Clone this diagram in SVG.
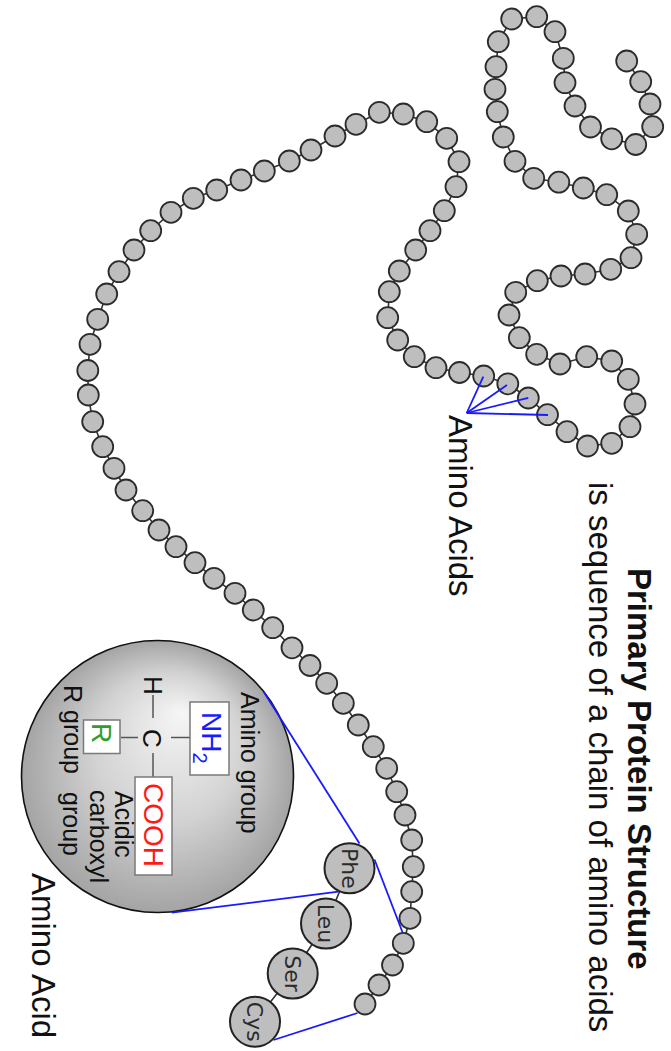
<svg xmlns="http://www.w3.org/2000/svg" xmlns:xlink="http://www.w3.org/1999/xlink" width="671" height="1051" viewBox="0 0 671 1051">
  <style>
    .backbone { fill: none; stroke: #333; stroke-width: 1.6; }
    .bead { fill: #bebebe; stroke: #2b2b2b; stroke-width: 1.8; }
    .residue { fill: #bebebe; stroke: #222; stroke-width: 2; }
    .res-label { font-family: "DejaVu Sans", sans-serif; font-size: 22px; fill: #2a2a2a; text-anchor: middle; }
    .zoom-line { fill: none; stroke: #1a1aff; stroke-width: 1.8; }
    .label { font-family: "Liberation Sans", Arial, sans-serif; fill: #111; }
    .big { font-size: 33px; }
    .small { font-size: 25px; }
    .bond { stroke: #555; stroke-width: 1.5; }
    .box { fill: #fff; stroke: #7a7a7a; stroke-width: 1.5; }
    .grp { font-family: "Liberation Sans", Arial, sans-serif; font-size: 28px; }
  </style>
  <defs>
    <circle id="bead" cx="0" cy="0" r="10.5" class="bead"/>
    <radialGradient id="shade" gradientUnits="userSpaceOnUse" cx="157.5" cy="776.5" r="136" fx="182" fy="712">
      <stop offset="0" stop-color="#f6f6f6"/>
      <stop offset="0.55" stop-color="#d2d2d2"/>
      <stop offset="1" stop-color="#a4a4a4"/>
    </radialGradient>
  </defs>

  <rect width="671" height="1051" fill="#fff"/>

  <!-- polypeptide chain -->
  <g id="chain">
    <polyline class="backbone" points="626.7,61 640.7,81.7 650,104 652.7,126.7 635.7,144.5 611.7,138.8 590.5,127 575,106 565,82.7 563.3,58.3 555,31.7 536.7,16.7 511.7,19 498.3,41.7 496,66.7 495,89.3 497.3,111.7 503.3,137 515,161.3 533.7,178.3 558.8,182.2 583.3,188 606.7,194.7 628.3,211 636.7,234.3 631,257.7 610.7,269.3 585,274 561,276 537.3,280.7 515.7,292.3 509,315 519.3,337.7 536.7,354.3 560,364 586.7,356.7 611.7,361 628.3,379.3 635,404 630,426.7 611.7,443.3 587.5,446 567,431.7 547.5,414.7 528.3,398 507.8,383.8 483.7,376 459.5,372.5 436,367.7 414.3,356.7 397.7,340 387.7,317.7 389.3,291.7 399.3,271 415.7,250 430,230.7 444.3,210.7 456,186.7 459,161.7 446.7,138.3 426.7,121.7 403.3,114 379.3,112.3 356,124.3 335,136 311,150 289.3,161 264.3,171 241,180 216.7,190 193.3,198.3 171,212.3 150.7,230.7 134,250 119,271.7 106.7,294 97.7,319.3 90,344.3 87.8,370.5 88.3,395 92.7,421.7 102.7,446.7 114,468.3 126,490 142.7,510.7 159,530 176,546.7 195,562.7 214,578.3 235,593.3 253.3,610 272.7,627.7 292,647.8 310,665.5 326.7,683.3 343.3,703.3 358.3,725 373.3,746.7 386.7,768.3 396.7,791.7 405,815 411.7,840 413.3,866.7 411.7,891.7 410,918.3 403.3,943.3 392.5,965 379,985 365,1004"/>
    <use href="#bead" x="626.7" y="61"/>
    <use href="#bead" x="640.7" y="81.7"/>
    <use href="#bead" x="650" y="104"/>
    <use href="#bead" x="652.7" y="126.7"/>
    <use href="#bead" x="635.7" y="144.5"/>
    <use href="#bead" x="611.7" y="138.8"/>
    <use href="#bead" x="590.5" y="127"/>
    <use href="#bead" x="575" y="106"/>
    <use href="#bead" x="565" y="82.7"/>
    <use href="#bead" x="563.3" y="58.3"/>
    <use href="#bead" x="555" y="31.7"/>
    <use href="#bead" x="536.7" y="16.7"/>
    <use href="#bead" x="511.7" y="19"/>
    <use href="#bead" x="498.3" y="41.7"/>
    <use href="#bead" x="496" y="66.7"/>
    <use href="#bead" x="495" y="89.3"/>
    <use href="#bead" x="497.3" y="111.7"/>
    <use href="#bead" x="503.3" y="137"/>
    <use href="#bead" x="515" y="161.3"/>
    <use href="#bead" x="533.7" y="178.3"/>
    <use href="#bead" x="558.8" y="182.2"/>
    <use href="#bead" x="583.3" y="188"/>
    <use href="#bead" x="606.7" y="194.7"/>
    <use href="#bead" x="628.3" y="211"/>
    <use href="#bead" x="636.7" y="234.3"/>
    <use href="#bead" x="631" y="257.7"/>
    <use href="#bead" x="610.7" y="269.3"/>
    <use href="#bead" x="585" y="274"/>
    <use href="#bead" x="561" y="276"/>
    <use href="#bead" x="537.3" y="280.7"/>
    <use href="#bead" x="515.7" y="292.3"/>
    <use href="#bead" x="509" y="315"/>
    <use href="#bead" x="519.3" y="337.7"/>
    <use href="#bead" x="536.7" y="354.3"/>
    <use href="#bead" x="560" y="364"/>
    <use href="#bead" x="586.7" y="356.7"/>
    <use href="#bead" x="611.7" y="361"/>
    <use href="#bead" x="628.3" y="379.3"/>
    <use href="#bead" x="635" y="404"/>
    <use href="#bead" x="630" y="426.7"/>
    <use href="#bead" x="611.7" y="443.3"/>
    <use href="#bead" x="587.5" y="446"/>
    <use href="#bead" x="567" y="431.7"/>
    <use href="#bead" x="547.5" y="414.7"/>
    <use href="#bead" x="528.3" y="398"/>
    <use href="#bead" x="507.8" y="383.8"/>
    <use href="#bead" x="483.7" y="376"/>
    <use href="#bead" x="459.5" y="372.5"/>
    <use href="#bead" x="436" y="367.7"/>
    <use href="#bead" x="414.3" y="356.7"/>
    <use href="#bead" x="397.7" y="340"/>
    <use href="#bead" x="387.7" y="317.7"/>
    <use href="#bead" x="389.3" y="291.7"/>
    <use href="#bead" x="399.3" y="271"/>
    <use href="#bead" x="415.7" y="250"/>
    <use href="#bead" x="430" y="230.7"/>
    <use href="#bead" x="444.3" y="210.7"/>
    <use href="#bead" x="456" y="186.7"/>
    <use href="#bead" x="459" y="161.7"/>
    <use href="#bead" x="446.7" y="138.3"/>
    <use href="#bead" x="426.7" y="121.7"/>
    <use href="#bead" x="403.3" y="114"/>
    <use href="#bead" x="379.3" y="112.3"/>
    <use href="#bead" x="356" y="124.3"/>
    <use href="#bead" x="335" y="136"/>
    <use href="#bead" x="311" y="150"/>
    <use href="#bead" x="289.3" y="161"/>
    <use href="#bead" x="264.3" y="171"/>
    <use href="#bead" x="241" y="180"/>
    <use href="#bead" x="216.7" y="190"/>
    <use href="#bead" x="193.3" y="198.3"/>
    <use href="#bead" x="171" y="212.3"/>
    <use href="#bead" x="150.7" y="230.7"/>
    <use href="#bead" x="134" y="250"/>
    <use href="#bead" x="119" y="271.7"/>
    <use href="#bead" x="106.7" y="294"/>
    <use href="#bead" x="97.7" y="319.3"/>
    <use href="#bead" x="90" y="344.3"/>
    <use href="#bead" x="87.8" y="370.5"/>
    <use href="#bead" x="88.3" y="395"/>
    <use href="#bead" x="92.7" y="421.7"/>
    <use href="#bead" x="102.7" y="446.7"/>
    <use href="#bead" x="114" y="468.3"/>
    <use href="#bead" x="126" y="490"/>
    <use href="#bead" x="142.7" y="510.7"/>
    <use href="#bead" x="159" y="530"/>
    <use href="#bead" x="176" y="546.7"/>
    <use href="#bead" x="195" y="562.7"/>
    <use href="#bead" x="214" y="578.3"/>
    <use href="#bead" x="235" y="593.3"/>
    <use href="#bead" x="253.3" y="610"/>
    <use href="#bead" x="272.7" y="627.7"/>
    <use href="#bead" x="292" y="647.8"/>
    <use href="#bead" x="310" y="665.5"/>
    <use href="#bead" x="326.7" y="683.3"/>
    <use href="#bead" x="343.3" y="703.3"/>
    <use href="#bead" x="358.3" y="725"/>
    <use href="#bead" x="373.3" y="746.7"/>
    <use href="#bead" x="386.7" y="768.3"/>
    <use href="#bead" x="396.7" y="791.7"/>
    <use href="#bead" x="405" y="815"/>
    <use href="#bead" x="411.7" y="840"/>
    <use href="#bead" x="413.3" y="866.7"/>
    <use href="#bead" x="411.7" y="891.7"/>
    <use href="#bead" x="410" y="918.3"/>
    <use href="#bead" x="403.3" y="943.3"/>
    <use href="#bead" x="392.5" y="965"/>
    <use href="#bead" x="379" y="985"/>
    <use href="#bead" x="365" y="1004"/>
  </g>

  <!-- pointer lines onto four beads -->
  <g id="amino-acids-pointer">
    <line class="zoom-line" x1="466.7" y1="413" x2="483.3" y2="376.7"/>
    <line class="zoom-line" x1="466.7" y1="413" x2="507" y2="385"/>
    <line class="zoom-line" x1="466.7" y1="413" x2="528.3" y2="397.8"/>
    <line class="zoom-line" x1="466.7" y1="413" x2="548" y2="415"/>
  </g>
  <g id="amino-acids-label">
    <text class="label big" transform="translate(449,415) rotate(90)">Amino Acids</text>
  </g>

  <!-- magnified segment of four residues -->
  <g id="residues">
    <polyline class="backbone" points="349.5,868.3 326,923.5 292.7,973.5 255,1021.7"/>
  </g>
  <g id="phe">
    <circle class="residue" cx="349.5" cy="868.3" r="25"/>
    <text class="res-label" transform="translate(349.5,868.3) rotate(90)" y="8">Phe</text>
  </g>
  <g id="leu">
    <circle class="residue" cx="326" cy="923.5" r="25"/>
    <text class="res-label" transform="translate(326,923.5) rotate(90)" y="8">Leu</text>
  </g>
  <g id="ser">
    <circle class="residue" cx="292.7" cy="973.5" r="25"/>
    <text class="res-label" transform="translate(292.7,973.5) rotate(90)" y="8">Ser</text>
  </g>
  <g id="cys">
    <circle class="residue" cx="255" cy="1021.7" r="25"/>
    <text class="res-label" transform="translate(255,1021.7) rotate(90)" y="8">Cys</text>
  </g>

  <!-- single amino acid, magnified -->
  <g id="amino-acid">
    <circle cx="157.5" cy="776.5" r="136" fill="url(#shade)" stroke="#111" stroke-width="1.6"/>
    <line class="bond" x1="153" y1="695" x2="153" y2="718"/>
    <line class="bond" x1="153" y1="753" x2="153" y2="777"/>
    <line class="bond" x1="121" y1="737.5" x2="138" y2="737.5"/>
    <line class="bond" x1="171" y1="737.5" x2="190" y2="737.5"/>
    <text class="label" font-size="26" transform="translate(144,676) rotate(90)">H</text>
    <text class="label" font-size="26" transform="translate(143,729) rotate(90)">C</text>
    <rect class="box" x="190" y="702" width="39" height="73"/>
    <text class="grp" fill="#1a1aff" transform="translate(202,712) rotate(90)">NH<tspan font-size="20" dy="9">2</tspan></text>
    <rect class="box" x="135" y="777" width="37" height="98"/>
    <text class="grp" fill="#ff1a1a" transform="translate(143.5,783) rotate(90)">COOH</text>
    <rect class="box" x="83.5" y="720" width="36.5" height="33.5"/>
    <text class="grp" fill="#2e9e2e" transform="translate(92,723) rotate(90)">R</text>
    <text class="label small" transform="translate(241,692) rotate(90)">Amino group</text>
    <text class="label small" transform="translate(64,685) rotate(90)">R group</text>
    <text class="label small" transform="translate(115,791) rotate(90)">Acidic</text>
    <text class="label small" transform="translate(90,790) rotate(90)">carboxyl</text>
    <text class="label small" transform="translate(63,792) rotate(90)">group</text>
  </g>
  <g id="amino-acid-label">
    <text class="label big" transform="translate(32,873) rotate(90)">Amino Acid</text>
  </g>

  <!-- magnification connectors, edge to edge -->
  <g id="connectors">
    <line class="zoom-line" x1="263.5" y1="691.5" x2="359.5" y2="843.5"/>
    <line class="zoom-line" x1="171.7" y1="912.7" x2="338.5" y2="891.7"/>
    <line class="zoom-line" x1="374.5" y1="859.5" x2="402.5" y2="932.2"/>
    <line class="zoom-line" x1="273.5" y1="1040" x2="357.5" y2="1013"/>
  </g>

  <!-- heading -->
  <g id="heading">
    <text class="label big" font-weight="bold" transform="translate(628,568) rotate(90)">Primary Protein Structure</text>
    <text class="label big" transform="translate(589,482) rotate(90)">is sequence of a chain of amino acids</text>
  </g>
</svg>
